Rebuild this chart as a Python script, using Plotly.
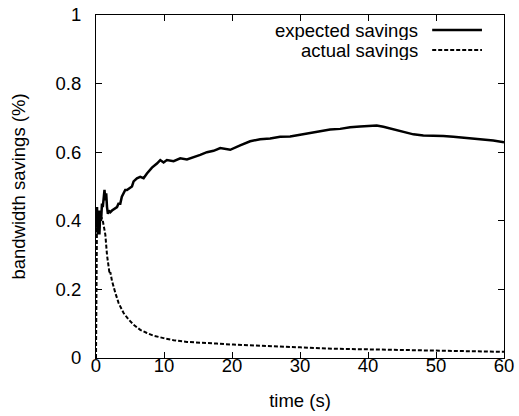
import plotly.graph_objects as go

# expected savings
exp_t = [0, 0.05, 0.15, 0.25, 0.39, 0.5, 0.64, 0.75, 0.88, 1.0, 1.13, 1.25, 1.37, 1.5, 1.62, 1.75, 1.86, 2.1, 2.35,
         2.7, 3.09, 3.3, 3.57, 3.8, 4.06, 4.3, 4.55, 4.9, 5.29, 5.53, 6.02, 6.5, 7.0, 7.49, 8.23, 8.96, 9.45, 9.94,
         10.43, 11.41, 12.39, 13.37, 14.35, 15.33, 16.31, 17.29, 18.27, 19.74, 21.2, 22.67, 24.14, 25.61, 27.08,
         28.55, 30.02, 31.49, 32.96, 34.43, 35.9, 37.37, 38.83, 40.3, 41.28, 42.26, 43.73, 45.2, 46.67, 48.14,
         49.61, 51.08, 52.55, 54.5, 56.46, 58.42, 60]
exp_v = [0.38, 0.42, 0.44, 0.36, 0.43, 0.36, 0.43, 0.40, 0.45, 0.44, 0.47, 0.49, 0.46, 0.48, 0.44, 0.42, 0.43, 0.425,
         0.43, 0.435, 0.44, 0.45, 0.45, 0.47, 0.48, 0.49, 0.49, 0.495, 0.50, 0.515, 0.524, 0.528, 0.524, 0.538,
         0.555, 0.567, 0.577, 0.57, 0.577, 0.574, 0.582, 0.579, 0.585, 0.592, 0.60, 0.604, 0.612, 0.607, 0.62,
         0.632, 0.638, 0.64, 0.645, 0.646, 0.651, 0.656, 0.662, 0.666, 0.668, 0.673, 0.675, 0.677, 0.678, 0.674,
         0.667, 0.659, 0.652, 0.649, 0.649, 0.647, 0.645, 0.642, 0.638, 0.634, 0.629]

# actual savings
act_t = [0, 0.03, 0.06, 0.15, 0.3, 0.45, 0.6, 0.8, 1.0, 1.1, 1.22, 1.37, 1.62, 1.86, 2.0, 2.11, 2.35, 2.84, 3.33,
         4.06, 4.8, 5.53, 6.51, 7.49, 8.47, 9.94, 11.41, 13.37, 15.33, 17.78, 20.23, 25.12, 30.02, 34.92, 39.81,
         44.71, 49.61, 54.5, 60]
act_v = [0, 0.30, 0.38, 0.42, 0.37, 0.41, 0.40, 0.41, 0.40, 0.39, 0.38, 0.36, 0.30, 0.26, 0.245, 0.25, 0.225, 0.19,
         0.16, 0.131, 0.112, 0.097, 0.082, 0.073, 0.065, 0.058, 0.052, 0.047, 0.044, 0.042, 0.039, 0.034, 0.031,
         0.027, 0.025, 0.023, 0.022, 0.020, 0.018]

series_names = ["expected savings", "actual savings"]
x_ticks = [0, 10, 20, 30, 40, 50, 60]
y_ticks = [0, 0.2, 0.4, 0.6, 0.8, 1]
y_tick_text = ["0", "0.2", "0.4", "0.6", "0.8", "1"]

FONT = "Liberation Sans, Arial, sans-serif"
FS = 18.5

fig = go.Figure()
fig.add_trace(go.Scatter(x=exp_t, y=exp_v, mode="lines", name=series_names[0],
                         line=dict(color="black", width=2.5), showlegend=False))
fig.add_trace(go.Scatter(x=act_t, y=act_v, mode="lines", name=series_names[1],
                         line=dict(color="black", width=2, dash="4px,2px"), showlegend=False))

# manual legend (text left of sample, like gnuplot)
legend_rows = [(0.956, None), (0.898, "4px,2px")]
for name, (yy, dash) in zip(series_names, legend_rows):
    fig.add_annotation(xref="paper", yref="paper", x=0.792, y=yy, text=name, showarrow=False,
                       xanchor="right", yanchor="middle", height=20, borderpad=0, valign="middle",
                       font=dict(family=FONT, size=FS, color="black"))
    fig.add_shape(type="line", xref="paper", yref="paper", x0=0.824, x1=0.946, y0=yy, y1=yy,
                  line=dict(color="black", width=2.5 if dash is None else 2, dash=dash or "solid"))

axis_common = dict(showgrid=False, zeroline=False, showline=True, linecolor="black", linewidth=1,
                   mirror="ticks", ticks="inside", ticklen=6, tickcolor="black", automargin=False,
                   tickfont=dict(family=FONT, size=FS, color="black"))

fig.update_xaxes(range=[0, 60], tickvals=x_ticks, ticklabelposition="outside", ticklabelstandoff=-9,
                 title=dict(text="time (s)", font=dict(family=FONT, size=FS, color="black"), standoff=18),
                 **axis_common)
fig.update_yaxes(range=[0, 1], tickvals=y_ticks, ticktext=y_tick_text, ticklabelstandoff=10,
                 title=dict(text="bandwidth savings (%)", font=dict(family=FONT, size=FS, color="black"), standoff=25),
                 **axis_common)

fig.update_layout(width=519, height=416, margin=dict(l=96, r=15, t=15, b=58),
                  paper_bgcolor="white", plot_bgcolor="white",
                  font=dict(family=FONT, size=FS, color="black"))

fig.write_html("out.html", config={"displayModeBar": False},
               post_script="document.body.style.margin='0';")
